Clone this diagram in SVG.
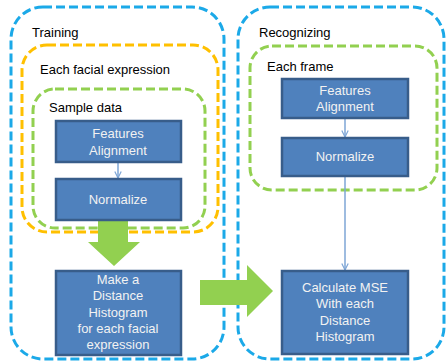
<svg xmlns="http://www.w3.org/2000/svg" width="448" height="364" viewBox="0 0 448 364">
<defs>
<style>
.blue{fill:none;stroke:#1BA9E8;stroke-width:3;stroke-dasharray:9 4}
.orange{fill:none;stroke:#FFC000;stroke-width:3;stroke-dasharray:9 4}
.green{fill:none;stroke:#92D050;stroke-width:3;stroke-dasharray:9 4}
.lbl{font-family:"Liberation Sans","Noto Sans CJK KR",sans-serif;font-size:13px;fill:#000}
.box{fill:#4F81BD;stroke:#385D8A;stroke-width:2.5}
.bt{font-family:"Liberation Sans","Noto Sans CJK KR",sans-serif;font-size:13px;fill:#F2F2F2;text-anchor:middle}
.conn{stroke:#7EA6D6;stroke-width:1.5;fill:none}
.big{fill:#92D050}
</style>
<marker id="v" viewBox="0 0 10 10" refX="9" refY="5" markerWidth="8" markerHeight="8" orient="auto" markerUnits="userSpaceOnUse">
<path d="M1,1 L9,5 L1,9" fill="none" stroke="#7EA6D6" stroke-width="1.5"/>
</marker>
</defs>
<g id="training">
<rect class="blue" x="11" y="7" width="213" height="352" rx="32"/>
<text class="lbl" x="32" y="37">Training</text>
</g>
<g id="each-facial-expression">
<rect class="orange" x="22" y="45" width="196" height="187" rx="25"/>
<text class="lbl" x="40" y="74">Each facial expression</text>
</g>
<g id="sample-data">
<rect class="green" x="33" y="89" width="172" height="139" rx="22"/>
<text class="lbl" x="49" y="112">Sample data</text>
</g>
<g id="recognizing">
<rect class="blue" x="238" y="7" width="206" height="352" rx="32"/>
<text class="lbl" x="259" y="37">Recognizing</text>
</g>
<g id="each-frame">
<rect class="green" x="250" y="46" width="187" height="144" rx="22"/>
<text class="lbl" x="267" y="71">Each frame</text>
</g>
<g id="connectors">
<line class="conn" x1="118" y1="162" x2="118" y2="178" marker-end="url(#v)"/>
<line class="conn" x1="345" y1="118" x2="345" y2="137" marker-end="url(#v)"/>
<line class="conn" x1="345" y1="176" x2="345" y2="270" marker-end="url(#v)"/>
<polygon class="big" points="98,220 128,220 128,242 140,242 114,266 88,242 98,242"/>
<polygon class="big" points="200,280 247,280 247,265 273,291 247,317 247,305 200,305"/>
</g>
<g id="features-alignment-1">
<rect class="box" x="56" y="121" width="125" height="41"/>
<text class="bt" x="118" y="138">Features</text>
<text class="bt" x="118" y="155">Alignment</text>
</g>
<g id="normalize-1">
<rect class="box" x="56" y="179" width="125" height="41"/>
<text class="bt" x="118" y="204">Normalize</text>
</g>
<g id="make-histogram">
<rect class="box" x="56" y="271" width="125" height="84"/>
<text class="bt" x="118" y="284">Make a</text>
<text class="bt" x="118" y="300">Distance</text>
<text class="bt" x="118" y="317">Histogram</text>
<text class="bt" x="118" y="333">for each facial</text>
<text class="bt" x="118" y="349">expression</text>
</g>
<g id="features-alignment-2">
<rect class="box" x="282" y="79" width="126" height="39"/>
<text class="bt" x="345" y="95">Features</text>
<text class="bt" x="345" y="111">Alignment</text>
</g>
<g id="normalize-2">
<rect class="box" x="282" y="138" width="126" height="38"/>
<text class="bt" x="345" y="161">Normalize</text>
</g>
<g id="calculate-mse">
<rect class="box" x="282" y="271" width="126" height="83"/>
<text class="bt" x="345" y="292">Calculate MSE</text>
<text class="bt" x="345" y="308">With each</text>
<text class="bt" x="345" y="325">Distance</text>
<text class="bt" x="345" y="341">Histogram</text>
</g>
</svg>
